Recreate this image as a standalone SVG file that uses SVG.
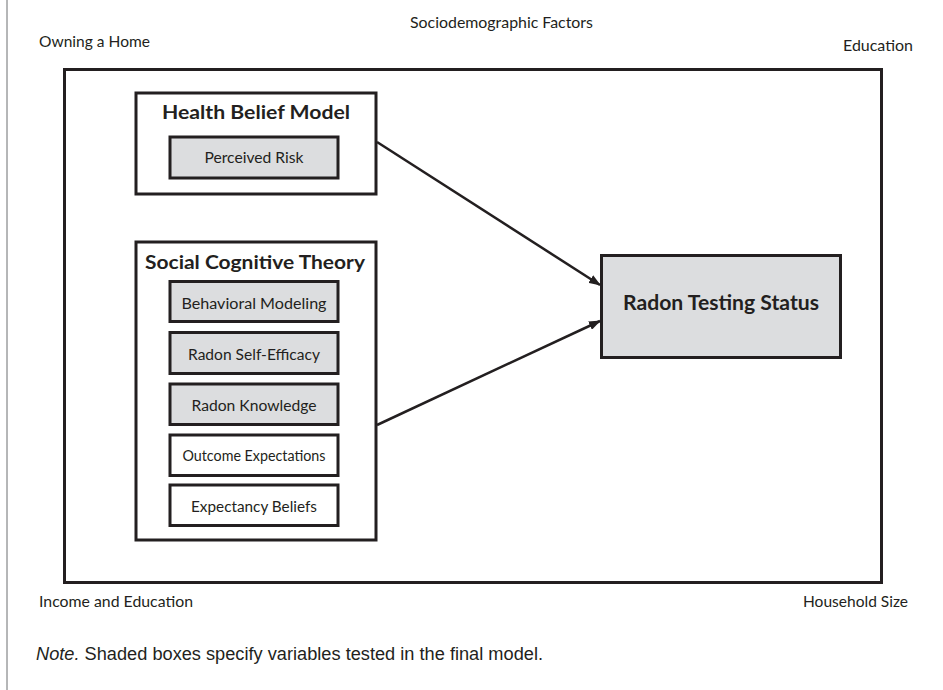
<svg xmlns="http://www.w3.org/2000/svg" width="943" height="690" viewBox="0 0 943 690">
<defs>
<style>
.lbl{font-family:Lato,"Open Sans","Liberation Sans",sans-serif;fill:#231f20}
.t{font-size:16px}
.ttl{font-size:18.5px;font-weight:bold}
.v{font-size:15.5px;text-anchor:middle}
.box{fill:#ffffff;stroke:#231f20;stroke-width:3}
.shade{fill:#dcdddf;stroke:#231f20;stroke-width:3}
.edge{stroke:#231f20;stroke-width:2.5;fill:none}
.note{font-family:"Liberation Sans",Arial,sans-serif;font-size:17.5px;fill:#231f20}
</style>
<marker id="arr" markerWidth="12" markerHeight="9" refX="11" refY="4.5" orient="auto" markerUnits="userSpaceOnUse">
<path d="M0,0 L12,4.5 L0,9 Z" fill="#231f20"/>
</marker>
</defs>
<rect width="943" height="690" fill="#ffffff"/>
<line x1="7" y1="0" x2="7" y2="690" stroke="#6d6e71" stroke-width="1"/>

<g id="labels">
<text class="lbl t" x="410" y="28" textLength="183" lengthAdjust="spacingAndGlyphs">Sociodemographic Factors</text>
<text class="lbl t" x="39" y="47" textLength="111" lengthAdjust="spacingAndGlyphs">Owning a Home</text>
<text class="lbl t" x="843" y="51" textLength="70" lengthAdjust="spacingAndGlyphs">Education</text>
<text class="lbl t" x="39" y="607" textLength="154" lengthAdjust="spacingAndGlyphs">Income and Education</text>
<text class="lbl t" x="803" y="607" textLength="105" lengthAdjust="spacingAndGlyphs">Household Size</text>
<text class="note" x="36" y="660" textLength="507" lengthAdjust="spacingAndGlyphs"><tspan font-style="italic">Note.</tspan> Shaded boxes specify variables tested in the final model.</text>
</g>

<g id="frame">
<rect x="64.5" y="69.5" width="817" height="513" fill="none" stroke="#231f20" stroke-width="3"/>
</g>

<g id="hbm">
<rect class="box" x="136" y="93" width="240" height="101"/>
<text class="lbl ttl" x="162" y="119" textLength="188" lengthAdjust="spacingAndGlyphs">Health Belief Model</text>
</g>
<g id="perceived-risk">
<rect class="shade" x="170" y="137" width="168" height="41"/>
<text class="lbl v" x="254" y="163" textLength="99" lengthAdjust="spacingAndGlyphs">Perceived Risk</text>
</g>

<g id="sct">
<rect class="box" x="136" y="242" width="240" height="298"/>
<text class="lbl ttl" x="145" y="269" textLength="220" lengthAdjust="spacingAndGlyphs">Social Cognitive Theory</text>
</g>
<g id="behavioral-modeling">
<rect class="shade" x="170" y="281.5" width="168" height="40"/>
<text class="lbl v" x="254" y="309" textLength="145" lengthAdjust="spacingAndGlyphs">Behavioral Modeling</text>
</g>
<g id="radon-self-efficacy">
<rect class="shade" x="170" y="332.5" width="168" height="41"/>
<text class="lbl v" x="254" y="360" textLength="132" lengthAdjust="spacingAndGlyphs">Radon Self-Efficacy</text>
</g>
<g id="radon-knowledge">
<rect class="shade" x="170" y="384" width="168" height="40.5"/>
<text class="lbl v" x="254" y="411" textLength="125" lengthAdjust="spacingAndGlyphs">Radon Knowledge</text>
</g>
<g id="outcome-expectations">
<rect class="box" x="170" y="435" width="168" height="40.5"/>
<text class="lbl v" x="254" y="461" font-size="14.5" textLength="143" lengthAdjust="spacingAndGlyphs">Outcome Expectations</text>
</g>
<g id="expectancy-beliefs">
<rect class="box" x="170" y="485" width="168" height="40.5"/>
<text class="lbl v" x="254" y="512" textLength="126" lengthAdjust="spacingAndGlyphs">Expectancy Beliefs</text>
</g>

<g id="radon-testing-status">
<rect class="shade" x="601.5" y="255.5" width="239" height="102"/>
<text class="lbl" x="721" y="310" font-size="20.5" font-weight="bold" text-anchor="middle" textLength="196" lengthAdjust="spacingAndGlyphs">Radon Testing Status</text>
</g>

<g id="connectors">
<line class="edge" x1="377" y1="142" x2="600" y2="285" marker-end="url(#arr)"/>
<line class="edge" x1="377" y1="425" x2="600" y2="321" marker-end="url(#arr)"/>
</g>
</svg>
